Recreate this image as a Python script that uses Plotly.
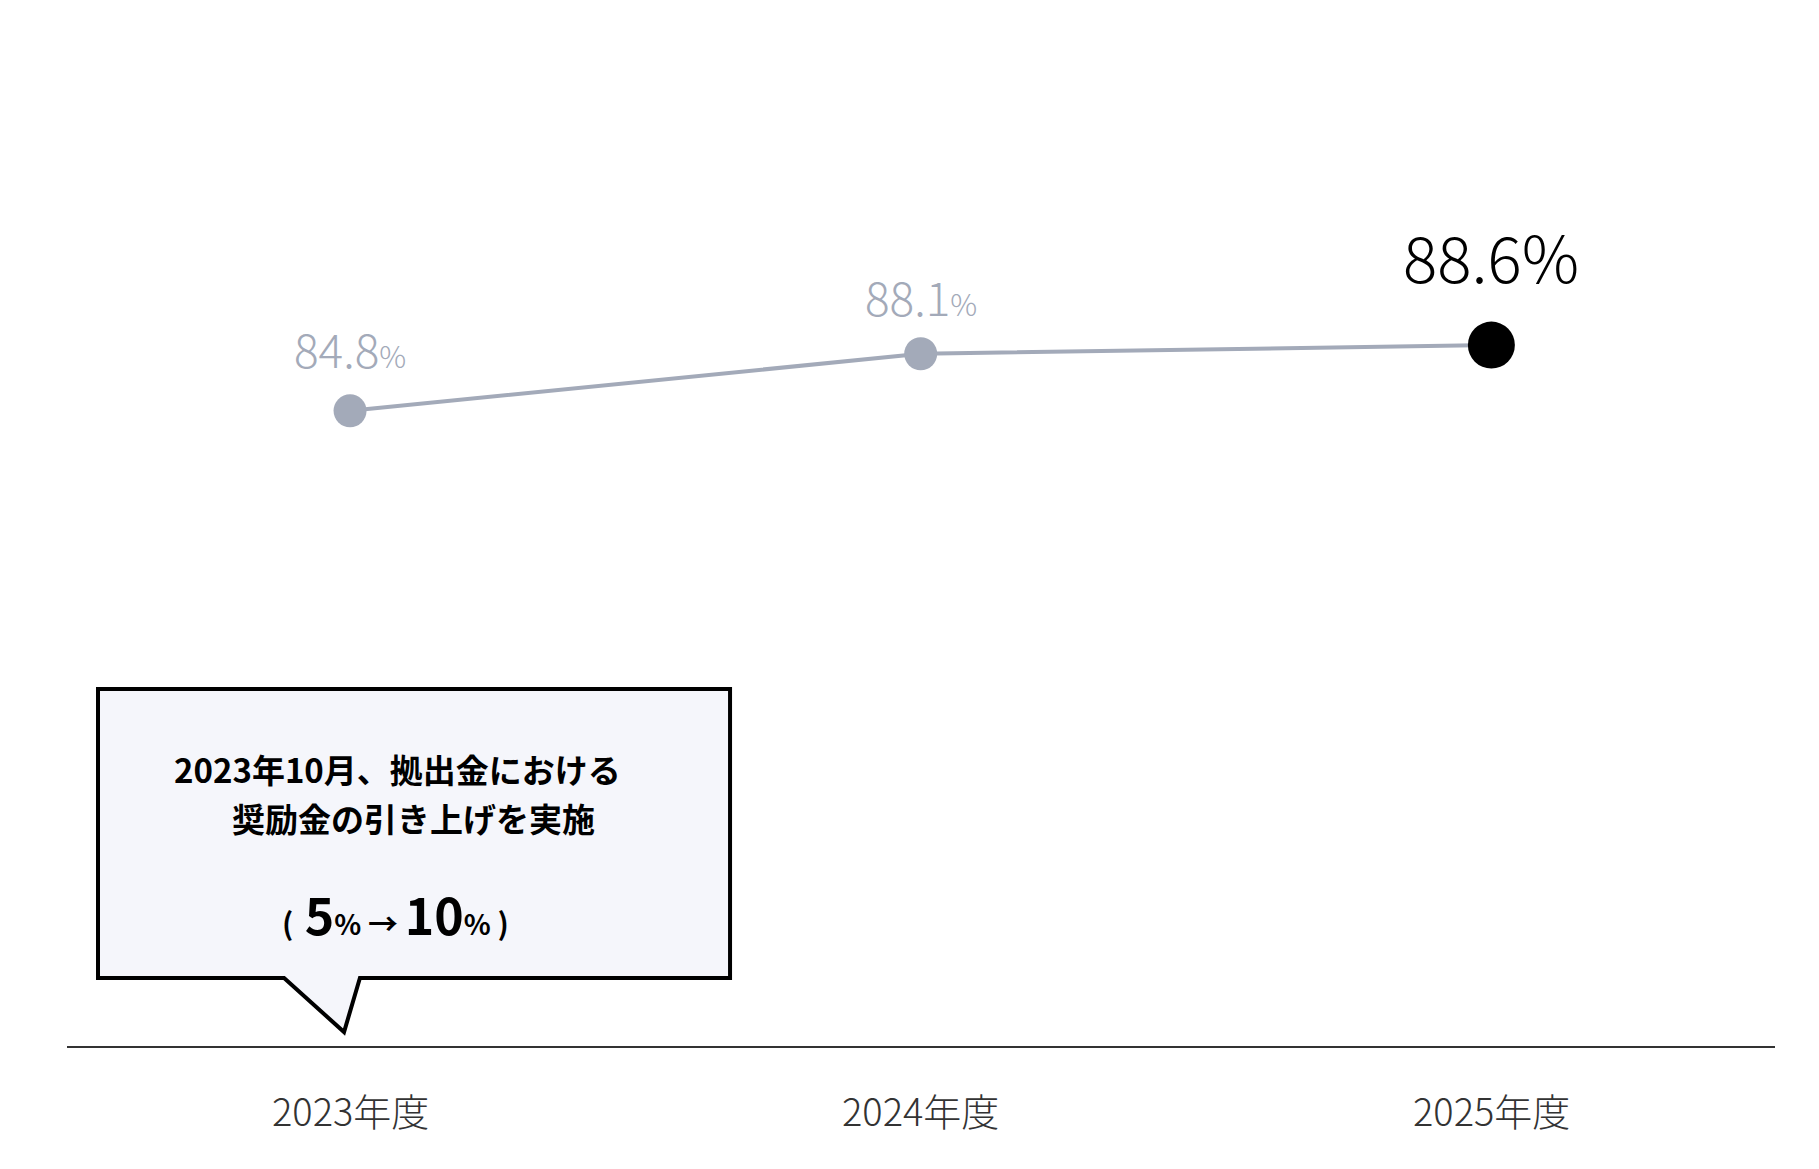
import plotly.graph_objects as go

# data
years = ["2023年度", "2024年度", "2025年度"]
rates = [84.8, 88.1, 88.6]
label_nums = ["84.8", "88.1", "88.6"]

GRAY = "#a3aab9"
FONT = "Noto Sans CJK JP"

xs = [0, 1, 2]

fig = go.Figure()
fig.add_trace(go.Scatter(x=xs, y=rates, mode="lines",
                         line=dict(color=GRAY, width=4), hoverinfo="skip"))
fig.add_trace(go.Scatter(x=xs[:2], y=rates[:2], mode="markers",
                         marker=dict(color=GRAY, size=33), hoverinfo="skip"))
fig.add_trace(go.Scatter(x=xs[2:], y=rates[2:], mode="markers",
                         marker=dict(color="black", size=47), hoverinfo="skip"))

annotations = []
# value labels
for i in range(2):
    annotations.append(dict(x=xs[i], y=rates[i], xref="x", yref="y",
                            text=f"{label_nums[i]}<span style='font-size:30px'>%</span>",
                            showarrow=False, yshift=[63, 58][i],
                            font=dict(family=FONT, size=46, color=GRAY, weight=300)))
annotations.append(dict(x=xs[2], y=rates[2], xref="x", yref="y",
                        text=f"{label_nums[2]}%", showarrow=False, yshift=90,
                        font=dict(family=FONT, size=64, color="black", weight=300)))
# category labels
for x, t in zip(xs, years):
    annotations.append(dict(x=x, y=-0.06, xref="x", yref="paper", text=t,
                            showarrow=False, yanchor="middle",
                            font=dict(family=FONT, size=38, color="#333333", weight=300)))

# callout text
annotations.append(dict(x=(389 - 59) / 1708, y=1 - 761 / 1039, xref="paper", yref="paper",
                        xanchor="center", yanchor="middle",
                        text="2023年10月、拠出金における", showarrow=False,
                        font=dict(family=FONT, size=33, color="black", weight=700)))
annotations.append(dict(x=(405 - 59) / 1708, y=1 - 810 / 1039, xref="paper", yref="paper",
                        xanchor="center", yanchor="middle",
                        text="奨励金の引き上げを実施", showarrow=False,
                        font=dict(family=FONT, size=33, color="black", weight=700)))
annotations.append(dict(x=(387 - 59) / 1708, y=1 - 905 / 1039, xref="paper", yref="paper",
                        xanchor="center", yanchor="middle",
                        text="<span style='font-size:30px'>(</span> 5<span style='font-size:28px'>%</span>"
                             "<span style='font-size:30px'> → </span>10<span style='font-size:28px'>%</span>"
                             "<span style='font-size:30px'> )</span>",
                        showarrow=False,
                        font=dict(family=FONT, size=50, color="black", weight=700)))

shapes = [
    dict(type="path", xref="paper", yref="paper",
         path="M 0.01815,0.3446 L 0.3882,0.3446 L 0.3882,0.0664 L 0.1715,0.0664 "
              "L 0.1622,0.0144 L 0.1271,0.0664 L 0.01815,0.0664 Z",
         fillcolor="#f5f6fb", line=dict(color="black", width=4), layer="below"),
    dict(type="line", xref="paper", yref="paper", x0=0, x1=1, y0=0, y1=0,
         line=dict(color="#333333", width=2)),
]

fig.update_layout(
    width=1819, height=1169,
    margin=dict(l=59, r=52, t=0, b=130),
    paper_bgcolor="white", plot_bgcolor="white",
    showlegend=False,
    xaxis=dict(range=[-0.496, 2.497], visible=False),
    yaxis=dict(range=[48.0, 108.1], visible=False),
    annotations=annotations,
    shapes=shapes,
)

fig.write_html("out.html")
